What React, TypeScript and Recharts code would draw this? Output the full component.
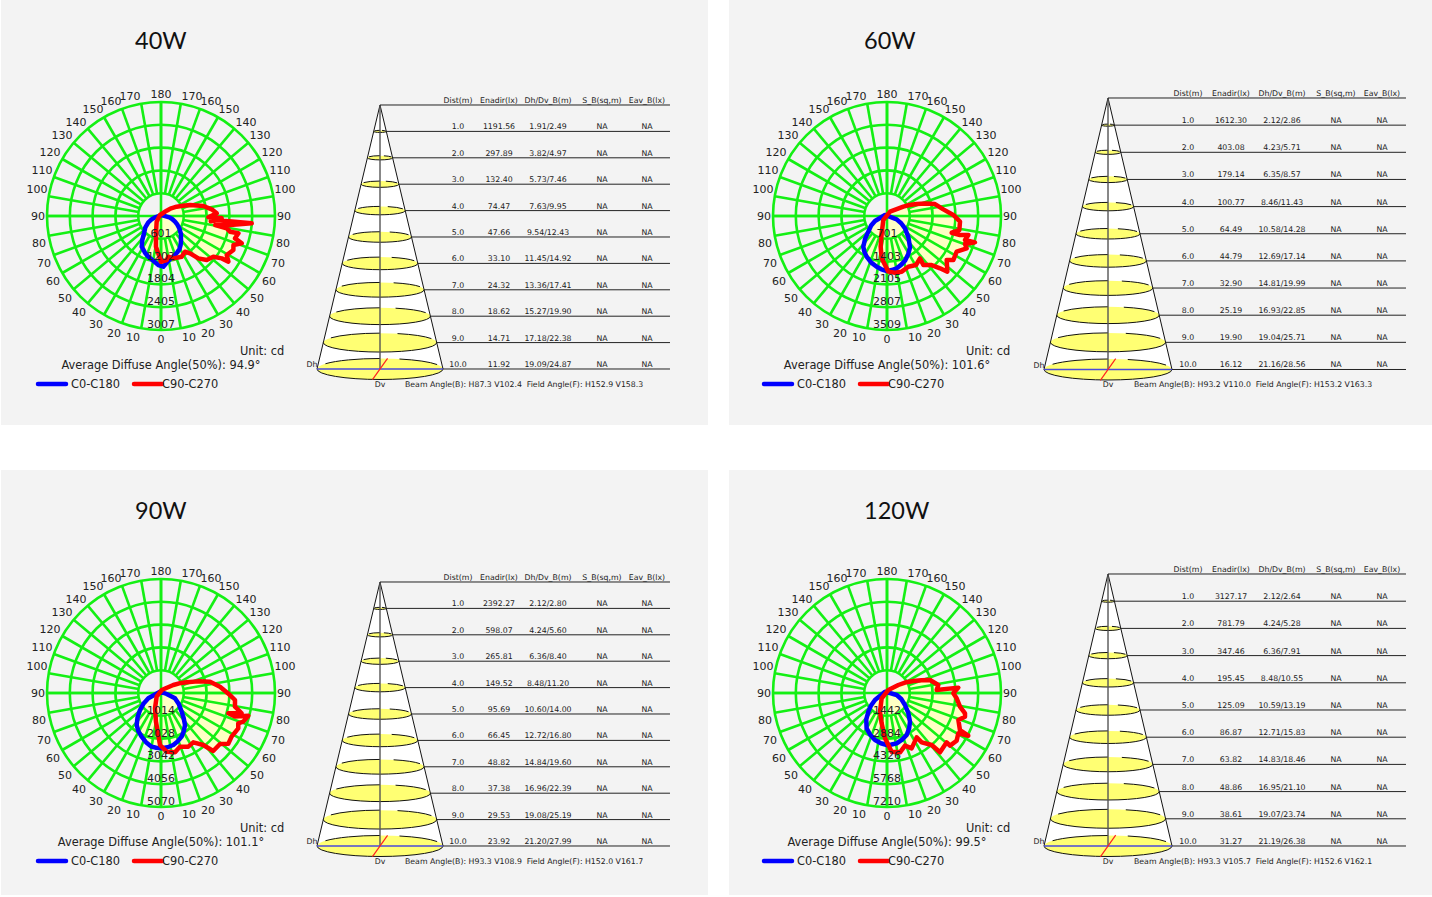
import React from 'react';
import { RadarChart, Radar, PolarGrid, PolarAngleAxis, PolarRadiusAxis, ScatterChart, Scatter, XAxis, YAxis, ReferenceLine } from 'recharts';

const dist = [1, 2, 3, 4, 5, 6, 7, 8, 9, 10];
const spokes = Array.from({ length: 36 }, (_, i) => i * 10);

// red / blue curves, [angle from straight down going right, cd]
const red40 = [[0, 1206], [7.3, 1171], [10.2, 1091], [16.2, 1164], [26.9, 1204], [33.9, 1135], [37.8, 1248], [41.4, 1490], [46.1, 1674], [52.1, 1749], [55.1, 1953], [55.9, 2147], [59.3, 2016], [64.8, 2110], [68.2, 2058], [71.3, 2249], [73.2, 2040], [77.4, 2092], [77.2, 1868], [79.4, 1763], [80.5, 1450], [82, 1752], [85.4, 2401], [85.6, 1500], [84, 1320], [88, 1600], [88.5, 1250], [92.7, 1471], [97.5, 1349], [103.3, 1148], [110.8, 819], [115, 640], [120.8, 481], [127, 335], [133, 205], [225, 37], [322.6, 188], [343.9, 476], [350.7, 820]];
const blue40 = [[2.6, 1339], [9.3, 1195], [14, 1140], [19.7, 1094], [24, 1050], [28.8, 1004], [34, 925], [39.8, 825], [48, 705], [56, 584], [62, 490], [68, 399], [75, 305], [81, 223], [146, 30], [282.5, 162], [290, 265], [296.6, 374], [306, 510], [315.6, 641], [322, 800], [327.8, 956], [336.4, 1056], [342, 1115], [347.8, 1170], [356.9, 1295]];
const red60 = [[1.4, 1713], [8, 1762], [14.8, 1772], [22.8, 1693], [30.6, 1753], [37.9, 1652], [36.6, 1878], [42.3, 2041], [45.4, 2292], [47.3, 2527], [53.6, 2282], [56.4, 2450], [62.9, 2409], [67.9, 2646], [70.3, 2551], [73.3, 2827], [72.9, 2512], [76.9, 2571], [75.4, 2320], [75.5, 2057], [79, 2268], [85.6, 2254], [90.9, 2042], [96.7, 1746], [104, 1522], [108, 1240], [112, 985], [116, 770], [119.7, 579], [145, 162], [317.5, 167], [342.9, 559], [348.3, 963], [352.8, 1313]];
const blue60 = [[0, 1693], [5, 1670], [10.5, 1638], [16, 1565], [22, 1482], [29, 1345], [36.3, 1196], [45, 935], [55.6, 672], [63, 490], [71, 315], [243, 69], [292.6, 400], [301, 570], [310, 750], [316, 970], [322.3, 1193], [328, 1310], [333.4, 1399], [341, 1510], [348.5, 1592], [354, 1650]];
const red90 = [[5.5, 2620], [13.3, 2712], [19.5, 2531], [27, 2678], [33.2, 2623], [39.1, 2979], [42, 3468], [49.2, 3468], [52.9, 3749], [58.3, 3690], [65.4, 3779], [68.6, 3690], [70.8, 3875], [75.4, 4012], [72.3, 3453], [73.2, 3127], [75.9, 3699], [79.5, 3346], [84.6, 3305], [88.3, 3068], [96.1, 2638], [103, 2238], [107.5, 1720], [112.6, 1236], [118, 920], [123, 652], [167, 136], [310, 252], [338.6, 732], [350, 1294], [358.9, 2312]];
const blue90 = [[0.7, 2460], [7, 2430], [13.3, 2376], [19, 2275], [25.3, 2147], [31, 1970], [36.9, 1778], [42, 1510], [47.9, 1238], [58, 940], [69.1, 665], [80, 256], [217, 74], [292.8, 611], [301, 900], [309, 1201], [316, 1500], [322.8, 1787], [329, 1965], [336, 2123], [343, 2285], [350, 2422], [355, 2445]];
const red120 = [[4.5, 3722], [12.4, 3841], [18.9, 3520], [24, 3831], [33.8, 3373], [35.1, 3813], [40.7, 4335], [41.8, 5031], [50.4, 4898], [50.1, 5193], [55.6, 5338], [60.5, 5182], [62.3, 5808], [63.1, 5175], [69.3, 4824], [73.1, 5155], [75.4, 5098], [79.4, 4697], [85.6, 4419], [89.7, 4195], [94.3, 4524], [93.5, 3147], [98.9, 3286], [106.8, 2841], [110.5, 2320], [114.5, 1830], [120, 1320], [125.2, 877], [156, 208], [315, 477], [339.4, 1261], [350, 1948], [357.5, 2869]];
const blue120 = [[0, 3288], [5, 3270], [10.9, 3241], [18, 3095], [25.1, 2933], [32, 2640], [38.7, 2324], [47, 1840], [56.3, 1368], [67, 980], [78.3, 624], [236, 152], [300, 879], [308, 1280], [315, 1669], [322, 2130], [330, 2578], [338, 2840], [345.7, 3068], [353, 3200]];

const ticks40 = [601, 1202, 1804, 2405, 3007];
const ticks60 = [701, 1403, 2105, 2807, 3509];
const ticks90 = [1014, 2028, 3042, 4056, 5070];
const ticks120 = [1442, 2884, 4326, 5768, 7210];

const enadir40 = ['1191.56', '297.89', '132.40', '74.47', '47.66', '33.10', '24.32', '18.62', '14.71', '11.92'];
const dh40 = [1.91, 3.82, 5.73, 7.63, 9.54, 11.45, 13.36, 15.27, 17.18, 19.09];
const dv40 = [2.49, 4.97, 7.46, 9.95, 12.43, 14.92, 17.41, 19.90, 22.38, 24.87];
const enadir60 = ['1612.30', '403.08', '179.14', '100.77', '64.49', '44.79', '32.90', '25.19', '19.90', '16.12'];
const dh60 = [2.12, 4.23, 6.35, 8.46, 10.58, 12.69, 14.81, 16.93, 19.04, 21.16];
const dv60 = [2.86, 5.71, 8.57, 11.43, 14.28, 17.14, 19.99, 22.85, 25.71, 28.56];
const enadir90 = ['2392.27', '598.07', '265.81', '149.52', '95.69', '66.45', '48.82', '37.38', '29.53', '23.92'];
const dh90 = [2.12, 4.24, 6.36, 8.48, 10.60, 12.72, 14.84, 16.96, 19.08, 21.20];
const dv90 = [2.80, 5.60, 8.40, 11.20, 14.00, 16.80, 19.60, 22.39, 25.19, 27.99];
const enadir120 = ['3127.17', '781.79', '347.46', '195.45', '125.09', '86.87', '63.82', '48.86', '38.61', '31.27'];
const dh120 = [2.12, 4.24, 6.36, 8.48, 10.59, 12.71, 14.83, 16.95, 19.07, 21.19];
const dv120 = [2.64, 5.28, 7.91, 10.55, 13.19, 15.83, 18.46, 21.10, 23.74, 26.38];

const FONT = '"DejaVu Sans", sans-serif';
const GREEN = '#14f014';
const R = 114;
const BOX = 320;
const C = BOX / 2;
const ZERO = { top: 0, right: 0, bottom: 0, left: 0 };

// where the gamma labels sit relative to the centre (the original nudges them off the true radius)
const labelSpot: Record<number, number[]> = {
  180: [0, 122], 170: [31, 120], 160: [50, 115], 150: [68, 107], 140: [85, 94], 130: [99, 81], 120: [111, 64], 110: [119, 46], 100: [124, 27], 90: [123, 0],
  80: [122, -27], 70: [117, -47], 60: [108, -65], 50: [96, -82], 40: [82, -96], 30: [65, -108], 20: [47, -117], 10: [28, -121], 0: [0, -123],
};

const toPoints = (list: number[][]) => list.map(([a, cd]) => ({ a, cd }));
const blankPoints = spokes.map((a) => ({ a, cd: 0 }));

const AngleTick = ({ payload }: any) => {
  const a = payload.value;
  const gamma = a <= 180 ? a : 360 - a;
  const [dx, dy] = labelSpot[gamma];
  return (
    <text x={C + (a > 180 ? -dx : dx)} y={C - dy} textAnchor="middle" dominantBaseline="central" fontSize={11} fontFamily={FONT} fill="#222">
      {gamma}
    </text>
  );
};

const RadiusTick = ({ payload, x, y }: any) => (
  <text x={x} y={y - 5.5} textAnchor="middle" dominantBaseline="central" fontSize={11} fontFamily={FONT} fill="#222">
    {payload.value}
  </text>
);

const layerStyle: React.CSSProperties = { position: 'absolute', left: 0, top: 0 };

const PolarLayer = ({ points, max, inner = 0, children, radiusAxis, angleAxis }: any) => (
  <RadarChart style={layerStyle} width={BOX} height={BOX} data={points} cx={C} cy={C} innerRadius={inner} outerRadius={R} startAngle={-90} endAngle={270} margin={ZERO}>
    {angleAxis || <PolarAngleAxis type="number" dataKey="a" domain={[0, 360]} tick={false} axisLine={false} tickLine={false} />}
    {radiusAxis || <PolarRadiusAxis type="number" domain={[0, max]} tick={false} axisLine={false} tickLine={false} />}
    {children}
  </RadarChart>
);

const PolarPlot = ({ red, blue, ticks, left, top }: any) => {
  const max = ticks[ticks.length - 1];
  const redPts = toPoints(red);
  const bluePts = toPoints(blue);
  return (
    <div style={{ position: 'absolute', left: left - C, top: top - C, width: BOX, height: BOX }}>
      <PolarLayer points={redPts} max={max}>
        <Radar dataKey="cd" stroke="none" fill="#ffffc4" fillOpacity={1} dot={false} isAnimationActive={false} />
      </PolarLayer>
      <PolarLayer points={bluePts} max={max}>
        <Radar dataKey="cd" stroke="none" fill="#ffffc4" fillOpacity={1} dot={false} isAnimationActive={false} />
      </PolarLayer>
      <PolarLayer points={blankPoints} max={max} inner={R / 5} angleAxis={<PolarAngleAxis type="number" dataKey="a" domain={[0, 360]} ticks={spokes} tick={<AngleTick />} axisLine={false} tickLine={false} />}>
        <PolarGrid gridType="circle" polarAngles={spokes} polarRadius={ticks.map((v: number) => (v / max) * R)} stroke={GREEN} strokeWidth={2.6} strokeOpacity={1} />
      </PolarLayer>
      <PolarLayer points={blankPoints} max={max}>
        <PolarGrid gridType="circle" polarAngles={[0, 90, 180, 270]} polarRadius={[]} stroke={GREEN} strokeWidth={2.6} strokeOpacity={1} />
      </PolarLayer>
      <PolarLayer points={bluePts} max={max}>
        <Radar dataKey="cd" stroke="#0000ff" strokeWidth={4.5} strokeLinejoin="round" fill="none" dot={false} isAnimationActive={false} />
      </PolarLayer>
      <PolarLayer points={redPts} max={max}>
        <Radar dataKey="cd" stroke="#ff0000" strokeWidth={4.5} strokeLinejoin="round" fill="none" dot={false} isAnimationActive={false} />
      </PolarLayer>
      <PolarLayer points={blankPoints} max={max} radiusAxis={<PolarRadiusAxis type="number" angle={-90} orientation="middle" domain={[0, max]} ticks={ticks} tick={<RadiusTick />} axisLine={false} tickLine={false} />}>
        <Radar dataKey="cd" stroke="none" fill="none" dot={false} isAnimationActive={false} />
      </PolarLayer>
    </div>
  );
};

const CONE_LEFT = 80;
const CONE_W = 400;

const textShape = (size: number, anchor: string, fill = '#222') => (p: any) => (
  <text x={p.cx} y={p.cy - (p.payload.lift ?? 0)} textAnchor={anchor} dominantBaseline="central" fontSize={size} fontFamily={FONT} fill={fill} style={{ whiteSpace: 'pre' }}>
    {p.payload.text}
  </text>
);

const ellipseShape = (p: any) => {
  const { cx, cy, payload } = p;
  const { rx, ry } = payload;
  const pt = (deg: number) => {
    const t = (deg * Math.PI) / 180;
    return `${cx + rx * Math.cos(t)} ${cy - ry * Math.sin(t)}`;
  };
  return (
    <g>
      <ellipse cx={cx} cy={cy} rx={rx} ry={ry} fill="#ffff73" stroke="none" />
      <path d={`M${pt(180)} A${rx} ${ry} 0 0 0 ${pt(0)}`} fill="none" stroke="#111" strokeWidth={1} />
      <path d={`M${pt(150)} A${rx} ${ry} 0 0 1 ${pt(90)}`} fill="none" stroke="#111" strokeWidth={1} />
      <path d={`M${pt(72)} A${rx} ${ry} 0 0 1 ${pt(25)}`} fill="none" stroke="#111" strokeWidth={1} />
    </g>
  );
};

const conePolygon = (p: any) => (
  <polygon points={`${p.x1},${p.y1} ${p.x2},${p.y2} ${2 * p.x1 - p.x2},${p.y2}`} fill="#ffffff" stroke="none" />
);

const ConeFrame = ({ apexX, apexY, gap, children }: any) => (
  <ScatterChart style={{ position: 'absolute', left: apexX - CONE_LEFT, top: apexY - 20 }} width={CONE_W} height={gap * 11 + 20} margin={{ top: 20, right: 0, bottom: 0, left: 0 }}>
    <XAxis type="number" dataKey="x" domain={[-CONE_LEFT, CONE_W - CONE_LEFT]} hide />
    <YAxis type="number" dataKey="y" domain={[0, 11]} reversed hide />
    {children}
  </ScatterChart>
);

const ConePlot = ({ enadir, dh, dv, apexX, apexY, gap, half, cols, end, beam, beamX }: any) => {
  const dhMax = dh[dh.length - 1];
  const dvMax = dv[dv.length - 1];
  const edge = (v: number) => (v / dhMax) * half;
  const rings = dist.map((d, i) => ({ x: 0, y: d, rx: edge(dh[i]), ry: (dv[i] / dvMax) * 10.5 }));
  const headers = ['Dist(m)', 'Enadir(lx)', 'Dh/Dv_B(m)', 'S_B(sq,m)', 'Eav_B(lx)'];
  const cells = [
    dist.map((d) => d.toFixed(1)),
    enadir,
    dist.map((_, i) => `${dh[i].toFixed(2)}/${dv[i].toFixed(2)}`),
    dist.map(() => 'NA'),
    dist.map(() => 'NA'),
  ];
  return (
    <>
      <ConeFrame apexX={apexX} apexY={apexY} gap={gap}>
        <ReferenceLine segment={[{ x: 0, y: 0 }, { x: half, y: 10 }]} shape={conePolygon} />
        <Scatter data={rings} shape={ellipseShape} isAnimationActive={false} />
      </ConeFrame>
      <ConeFrame apexX={apexX} apexY={apexY} gap={gap}>
        <ReferenceLine segment={[{ x: 0, y: 0 }, { x: half, y: 10 }]} stroke="#111" strokeWidth={1} />
        <ReferenceLine segment={[{ x: 0, y: 0 }, { x: -half, y: 10 }]} stroke="#111" strokeWidth={1} />
        <ReferenceLine segment={[{ x: 0, y: 0 }, { x: 0, y: 10 }]} stroke="#555" strokeWidth={1.4} />
        <ReferenceLine segment={[{ x: 0, y: 0 }, { x: end, y: 0 }]} stroke="#222" strokeWidth={1} />
        {dist.map((d, i) => (
          <ReferenceLine key={d} segment={[{ x: edge(dh[i]), y: d }, { x: end, y: d }]} stroke="#222" strokeWidth={1} />
        ))}
        <ReferenceLine segment={[{ x: -half, y: 10 }, { x: half, y: 10 }]} stroke="#4a4ad8" strokeWidth={1.5} />
        <ReferenceLine segment={[{ x: half * 0.12, y: 9.6 }, { x: -half * 0.12, y: 10.4 }]} stroke="#ff2020" strokeWidth={1.2} />
        {cols.map((cx: number, c: number) => (
          <Scatter key={c} data={[{ x: cx, y: 0, text: headers[c], lift: 4 }, ...dist.map((d, i) => ({ x: cx, y: d, text: cells[c][i], lift: 4.5 }))]} shape={textShape(7.8, 'middle')} isAnimationActive={false} />
        ))}
        <Scatter data={[{ x: -half - 5, y: 10, text: 'Dh', lift: 4 }, { x: 0, y: 10.57, text: 'Dv' }]} shape={textShape(7.8, 'middle')} isAnimationActive={false} />
        <Scatter data={[{ x: beamX, y: 10.57, text: beam }]} shape={textShape(7.8, 'start')} isAnimationActive={false} />
      </ConeFrame>
    </>
  );
};

const abs = (x: number, y: number, extra: React.CSSProperties = {}): React.CSSProperties => ({
  position: 'absolute', left: x, top: y, fontFamily: FONT, fontSize: 11.4, lineHeight: 1, color: '#222', whiteSpace: 'nowrap', transform: 'translateY(-50%)', ...extra,
});

const Panel = ({ title, titleX, titleY, box, polarX, top, red, blue, ticks, enadir, dh, dv, coneX, apexY, gap, half, cols, end, beam, beamX, avg }: any) => {
  const ox = polarX - 161;
  return (
    <>
      <div style={{ position: 'absolute', left: box[0], top: box[1], width: box[2], height: box[3], background: '#f3f3f3' }} />
      <div style={abs(titleX, titleY, { fontFamily: 'Lato, sans-serif', fontSize: 23.5, color: '#111' })}>{title}</div>
      <PolarPlot red={red} blue={blue} ticks={ticks} left={polarX} top={top + 216} />
      <ConePlot enadir={enadir} dh={dh} dv={dv} apexX={coneX} apexY={apexY} gap={gap} half={half} cols={cols} end={end} beam={beam} beamX={beamX} />
      <div style={abs(ox + 240, top + 352)}>Unit: cd</div>
      <div style={abs(polarX, top + 366, { transform: 'translate(-50%,-50%)' })}>Average Diffuse Angle(50%): {avg}°</div>
      <svg style={{ position: 'absolute', left: ox + 30, top: top + 376 }} width={140} height={16}>
        <line x1={8} y1={8} x2={36} y2={8} stroke="#0000ff" strokeWidth={4.5} strokeLinecap="round" />
        <line x1={104} y1={8} x2={132} y2={8} stroke="#ff0000" strokeWidth={4.5} strokeLinecap="round" />
      </svg>
      <div style={abs(ox + 71, top + 385)}>C0-C180</div>
      <div style={abs(ox + 162, top + 385)}>C90-C270</div>
    </>
  );
};

const narrow = { half: 63, cols: [78, 119, 168, 222, 267], end: 290, beamX: 25, coneX: 380 };
const broad = { half: 64, cols: [80, 123, 174, 228, 274], end: 298, beamX: 26, coneX: 1108 };

export default function App() {
  return (
    <div style={{ position: 'absolute', left: 0, top: 0, width: 1432, height: 897, background: '#fff', overflow: 'hidden' }}>
      <Panel title="40W" titleX={135} titleY={41} box={[1, 0, 707, 425]} polarX={161} top={0} red={red40} blue={blue40} ticks={ticks40} enadir={enadir40} dh={dh40} dv={dv40} apexY={105} gap={26.4} avg="94.9" beam="Beam Angle(B): H87.3 V102.4  Field Angle(F): H152.9 V158.3" {...narrow} />
      <Panel title="60W" titleX={864} titleY={41} box={[729, 0, 703, 425]} polarX={887} top={0} red={red60} blue={blue60} ticks={ticks60} enadir={enadir60} dh={dh60} dv={dv60} apexY={97.5} gap={27.15} avg="101.6" beam="Beam Angle(B): H93.2 V110.0  Field Angle(F): H153.2 V163.3" {...broad} />
      <Panel title="90W" titleX={135} titleY={511} box={[1, 470, 707, 425]} polarX={161} top={477} red={red90} blue={blue90} ticks={ticks90} enadir={enadir90} dh={dh90} dv={dv90} apexY={582} gap={26.4} avg="101.1" beam="Beam Angle(B): H93.3 V108.9  Field Angle(F): H152.0 V161.7" {...narrow} />
      <Panel title="120W" titleX={864} titleY={511} box={[729, 470, 703, 425]} polarX={887} top={477} red={red120} blue={blue120} ticks={ticks120} enadir={enadir120} dh={dh120} dv={dv120} apexY={574} gap={27.2} avg="99.5" beam="Beam Angle(B): H93.3 V105.7  Field Angle(F): H152.6 V162.1" {...broad} />
    </div>
  );
}
